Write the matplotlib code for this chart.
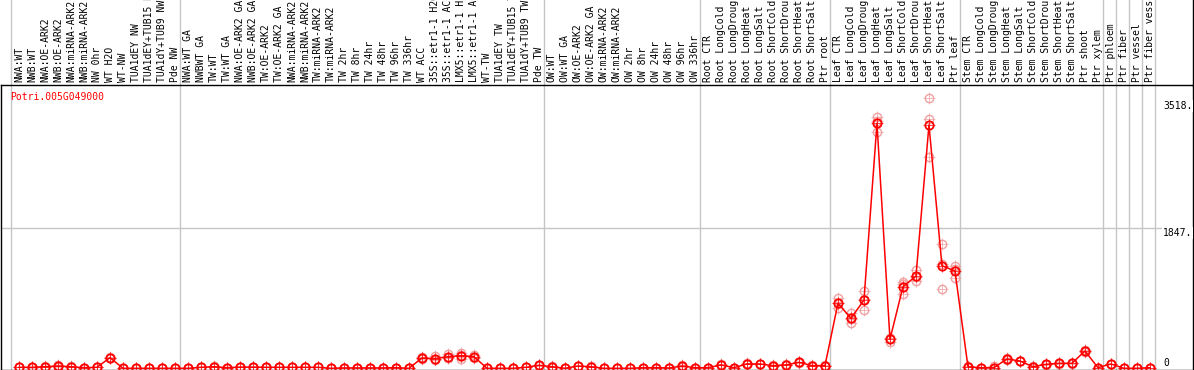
import numpy as np
import matplotlib.pyplot as plt
from matplotlib.transforms import blended_transform_factory
from matplotlib.lines import Line2D

gene = 'Potri.005G049000'

labels = ["NWA:WT", "NWB:WT", "NWA:OE-ARK2", "NWB:OE-ARK2", "NWA:miRNA-ARK2", "NWB:miRNA-ARK2",
          "NW 0hr", "WT H2O", "WT-NW", "TUA1dEY NW", "TUA1dEY+TUB15 NW", "TUA1dY+TUB9 NW", "Pde NW",
          "NWA:WT GA", "NWBWT GA", "TW:WT", "TW:WT GA", "NWA:OE-ARK2 GA", "NWB:OE-ARK2 GA",
          "TW:OE-ARK2", "TW:OE-ARK2 GA", "NWA:miRNA-ARK2", "NWB:miRNA-ARK2", "TW:miRNA-ARK2",
          "TW:miRNA-ARK2", "TW 2hr", "TW 8hr", "TW 24hr", "TW 48hr", "TW 96hr", "TW 336hr", "WT ACC",
          "35S::etr1-1 H2O", "35S::etr1-1 ACC", "LMX5::etr1-1 H2O", "LMX5::etr1-1 ACC", "WT-TW",
          "TUA1dEY TW", "TUA1dEY+TUB15 TW", "TUA1dY+TUB9 TW", "Pde TW",
          "OW:WT", "OW:WT GA", "OW:OE-ARK2", "OW:OE-ARK2 GA", "OW:miRNA-ARK2", "OW:miRNA-ARK2",
          "OW 2hr", "OW 8hr", "OW 24hr", "OW 48hr", "OW 96hr", "OW 336hr",
          "Root CTR", "Root LongCold", "Root LongDroug", "Root LongHeat", "Root LongSalt",
          "Root ShortCold", "Root ShortDrou", "Root ShortHeat", "Root ShortSalt", "Ptr root",
          "Leaf CTR", "Leaf LongCold", "Leaf LongDroug", "Leaf LongHeat", "Leaf LongSalt",
          "Leaf ShortCold", "Leaf ShortDrou", "Leaf ShortHeat", "Leaf ShortSalt", "Ptr leaf",
          "Stem CTR", "Stem LongCold", "Stem LongDroug", "Stem LongHeat", "Stem LongSalt",
          "Stem ShortCold", "Stem ShortDrou", "Stem ShortHeat", "Stem ShortSalt", "Ptr shoot",
          "Ptr xylem", "Ptr phloem", "Ptr fiber", "Ptr vessel", "Ptr fiber vessel"]

# last sample index of each block (separator lines drawn after them)
group_ends = [-1, 12, 40, 52, 62, 72, 83, 84, 85, 86, 87]

means = [13, 13, 21, 30, 21, 8, 13, 140, 0, 0, 0, 0, 0,
         0, 13, 21, 8, 16, 16, 13, 13, 13, 13, 13, 0, 5, 5, 5, 5, 8, 0,
         136, 127, 153, 166, 153, 0, 0, 0, 13, 39,
         21, 0, 30, 21, 0, 0, 0, 8, 8, 4, 30, 8,
         8, 44, 8, 57, 57, 35, 44, 79, 35, 35,
         856, 658, 899, 3225, 382, 1074, 1215, 3203, 1351, 1281,
         21, 8, 8, 123, 96, 21, 52, 66, 66, 228, 8,
         57, 0, 0, 8]

rep_a = [15, 10, 25, 45, 25, 10, 15, 150, 0, 0, 0, 0, 0,
         0, 15, 25, 10, 20, 18, 15, 15, 15, 15, 15, 0, 6, 6, 6, 6, 10, 0,
         150, 160, 185, 200, 170, 0, 0, 0, 15, 45,
         25, 0, 35, 25, 0, 0, 0, 10, 10, 5, 45, 10,
         10, 50, 10, 65, 60, 40, 55, 85, 40, 40,
         922, 732, 1018, 3304, 351, 1140, 1294, 3555, 1636, 1347,
         25, 10, 25, 135, 90, 25, 60, 75, 70, 240, 10,
         60, 0, 0, 10]
rep_b = [12, 15, 20, 25, 20, 6, 12, 130, 0, 0, 0, 0, 0,
         0, 12, 20, 6, 14, 15, 12, 12, 12, 12, 12, 0, 4, 4, 4, 4, 6, 0,
         125, 105, 140, 170, 150, 0, 0, 0, 12, 35,
         20, 0, 25, 20, 0, 0, 0, 6, 6, 3, 25, 6,
         6, 40, 6, 50, 55, 30, 40, 75, 30, 30,
         790, 592, 768, 3115, 395, 978, 1153, 3282, 1040, 1185,
         20, 6, 0, 115, 100, 18, 45, 60, 62, 220, 6,
         55, 0, 0, 6]
rep_c = [12, 14, 18, 20, 18, 8, 12, 140, 0, 0, 0, 0, 0,
         0, 12, 18, 8, 14, 15, 12, 12, 12, 12, 12, 0, 5, 5, 5, 5, 8, 0,
         133, 116, 134, 128, 139, 0, 0, 0, 12, 37,
         18, 0, 30, 18, 0, 0, 0, 8, 8, 4, 20, 8,
         8, 42, 8, 56, 56, 35, 37, 77, 35, 35,
         856, 650, 911, 3256, 400, 1104, 1198, 2786, 1377, 1311,
         18, 8, 0, 119, 98, 20, 51, 63, 66, 224, 8,
         56, 0, 0, 8]

W, H = 1194, 370
fig = plt.figure(figsize=(W / 100, H / 100), dpi=100)
ax = fig.add_axes([0.5 / W, 0.5 / H, 1192.5 / W, (369.5 - 85) / H])

x = np.arange(len(labels))
red = '#ff0000'
pale = '#f0a0a0'
gray = '#c6c6c6'
mono = 'DejaVu Sans Mono'

trans = blended_transform_factory(ax.transData, ax.transAxes)

# group separator lines run through the whole figure height
for b in group_ends:
    ax.plot([b + 0.4, b + 0.4], [-0.01, 1.35], transform=trans, color=gray, lw=1,
            clip_on=False, zorder=0.5)
ax.axhline(1847, color=gray, lw=1, zorder=0.5)

for rep in (rep_a, rep_b, rep_c):
    ax.plot(x, rep, ls='none', marker='+', ms=8, mew=0.5, color=pale, zorder=2)
    ax.plot(x, rep, ls='none', marker='o', ms=6, mfc='none', mec=pale, mew=1, zorder=2)

ax.plot(x, means, color=red, lw=1.1, zorder=3)
ax.plot(x, means, ls='none', marker='+', ms=8, mew=0.5, color=red, zorder=4)
ax.plot(x, means, ls='none', marker='o', ms=6, mfc='none', mec=red, mew=1.3, zorder=5)

ax.set_xlim(-1.423, 90.31)
ax.set_ylim(-16, 3730)
ax.set_xticks([])
ax.set_yticks([])
for s in ax.spines.values():
    s.set_color('black')
    s.set_linewidth(1)

# sample labels above the plot
for i, lab in enumerate(labels):
    ax.text(i, 1.0105, lab, transform=trans, rotation=90, ha='center', va='bottom',
            family=mono, size=7, clip_on=False)

# value labels on the right
box = dict(facecolor='white', edgecolor='none', pad=0.5)
ax.text(88.0, 3518, '3518.', ha='left', va='top', family=mono, size=7, bbox=box, zorder=6)
ax.text(88.0, 1847, '1847.', ha='left', va='top', family=mono, size=7, bbox=box, zorder=6)
ax.text(88.0, 0, '0', ha='left', va='bottom', family=mono, size=7, zorder=6)

fig.text(10 / W, 1 - 97 / H, gene, color=red, family=mono, size=7, va='center', ha='left')
fig.add_artist(Line2D([1193 / W, 1193 / W], [(H - 86) / H, 1], color='black', lw=1))

fig.savefig('out.png', dpi=100)
